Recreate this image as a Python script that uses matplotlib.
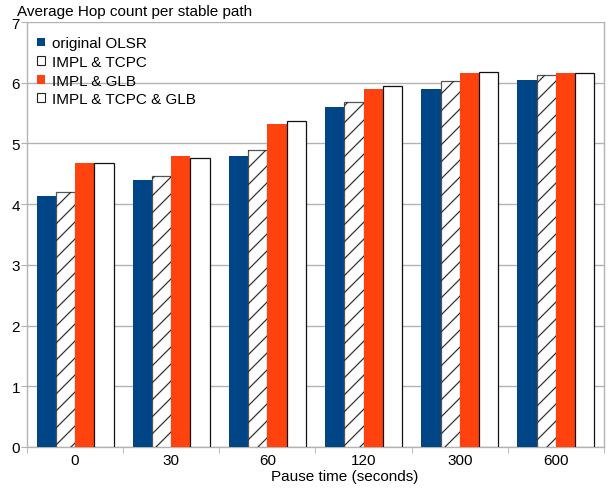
import matplotlib
matplotlib.use("Agg")
import matplotlib.pyplot as plt
import numpy as np
from matplotlib.patches import Patch
from matplotlib.collections import LineCollection
from matplotlib.transforms import IdentityTransform

plt.rcParams['font.family'] = ['Liberation Sans', 'DejaVu Sans']

categories = ["0", "30", "60", "120", "300", "600"]
original_olsr = [4.14, 4.40, 4.79, 5.60, 5.90, 6.05]
impl_tcpc = [4.20, 4.46, 4.90, 5.68, 6.03, 6.13]
impl_glb = [4.68, 4.79, 5.32, 5.90, 6.16, 6.16]
impl_tcpc_glb = [4.68, 4.76, 5.37, 5.94, 6.17, 6.16]
series_names = ["original OLSR", "IMPL & TCPC", "IMPL & GLB", "IMPL & TCPC & GLB"]

W, H = 608, 489
fig = plt.figure(figsize=(W/100, H/100), dpi=100)
ax = fig.add_axes([27/W, 1 - 448/H, (604-27)/W, (448-23)/H])

x = np.arange(len(categories))
w = 0.2
off = -0.3
grid_c = '#b3b3b3'
fs = 11

ax.bar(x + off, original_olsr, w, color='#004586', edgecolor='none', zorder=3)
hatched = ax.bar(x + off + w, impl_tcpc, w, color='white', edgecolor='#555555', linewidth=0.9, zorder=3)
ax.bar(x + off + 2*w, impl_glb, w, color='#ff420e', edgecolor='none', zorder=3)
ax.bar(x + off + 3*w, impl_tcpc_glb, w, color='white', edgecolor='#111111', linewidth=0.9, zorder=3)

ax.set_xlim(-0.5, len(categories) - 0.5)
ax.set_ylim(0, 7)
ax.set_yticks(range(0, 8))
ax.yaxis.grid(True, color=grid_c, linewidth=1.0, zorder=0)
ax.set_axisbelow(True)

# diagonal hatching drawn as clipped lines (17 px vertical spacing)
spacing = 17
segs = []
for c in np.arange(-W, H + W, spacing):
    segs.append([(0, c), (W + H, c + W + H)])
for bar in hatched:
    lc = LineCollection(segs, colors='#333333', linewidths=0.9, transform=IdentityTransform(), zorder=3.5)
    fig.add_artist(lc)
    lc.set_clip_path(bar)

ax.set_xticks(x)
ax.set_xticklabels(categories)
ax.set_xticks(np.arange(-0.5, len(categories) + 0.5, 1), minor=True)
ax.tick_params(axis='x', which='major', length=0, labelsize=fs, pad=4)
ax.tick_params(axis='x', which='minor', length=4, color=grid_c, direction='out')
ax.tick_params(axis='y', length=4, color=grid_c, labelsize=fs, pad=1)

for s in ['left', 'bottom', 'right']:
    ax.spines[s].set_color(grid_c)
    ax.spines[s].set_linewidth(1.0)
ax.spines['top'].set_visible(False)

ax.set_xlabel("Pause time (seconds)", fontsize=fs, labelpad=0)
ax.xaxis.set_label_coords((345-27)/577, -0.068)
ax.xaxis.label.set_va('center')

fig.text(17/W, 1 - 12/H, "Average Hop count per stable path", fontsize=fs, va='center', ha='left')

handles = [
    Patch(facecolor='#004586', edgecolor='none'),
    Patch(facecolor='white', edgecolor='#222222', linewidth=0.8),
    Patch(facecolor='#ff420e', edgecolor='none'),
    Patch(facecolor='white', edgecolor='#222222', linewidth=0.8),
]
leg = ax.legend(handles, series_names, loc='upper left', bbox_to_anchor=(10/577, 0.966),
                frameon=False, fontsize=fs, handlelength=0.5, handleheight=0.5,
                handletextpad=0.5, labelspacing=0.3, borderaxespad=0, borderpad=0)

fig.savefig("out.png", dpi=100)
